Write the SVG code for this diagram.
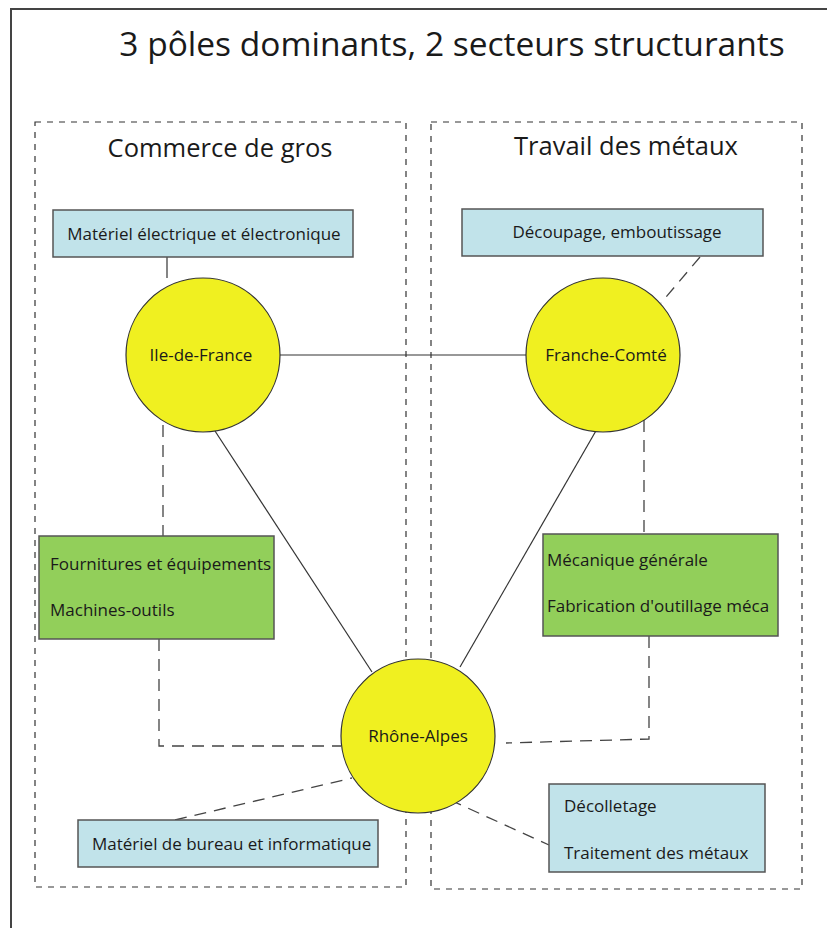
<svg xmlns="http://www.w3.org/2000/svg" width="827" height="928" viewBox="0 0 827 928">
<style>
text{font-family:"Open Sans","Liberation Sans",sans-serif;fill:#1a1a1a}
.t{font-size:17px}
.blue{fill:#c1e3ea;stroke:#555;stroke-width:1.5}
.green{fill:#92cf5a;stroke:#555;stroke-width:1.5}
.pole{fill:#f0f020;stroke:#333;stroke-width:1.2}
.zone{fill:none;stroke:#333;stroke-width:1.2;stroke-dasharray:6 6}
.solid{fill:none;stroke:#333;stroke-width:1.2}
.dash{fill:none;stroke:#444;stroke-width:1.3;stroke-dasharray:12 8}
</style>
<rect width="827" height="928" fill="#fff"/>
<path d="M11 928V9H827" fill="none" stroke="#444" stroke-width="2"/>
<text x="452" y="56" font-size="33.5" text-anchor="middle">3 pôles dominants, 2 secteurs structurants</text>
<g id="zone-commerce">
<rect class="zone" x="35" y="122" width="371" height="765"/>
<text x="220" y="157" font-size="25.5" text-anchor="middle">Commerce de gros</text>
</g>
<g id="zone-metaux">
<rect class="zone" x="431" y="122" width="371" height="767"/>
<text x="626" y="155" font-size="25.5" text-anchor="middle">Travail des métaux</text>
</g>
<g id="connectors">
<line class="solid" x1="167" y1="257" x2="167" y2="278"/>
<line class="solid" x1="280" y1="355" x2="526" y2="355"/>
<line class="solid" x1="215" y1="431" x2="372" y2="672"/>
<line class="solid" x1="597" y1="429" x2="460" y2="667"/>
<line class="dash" x1="700" y1="257" x2="661" y2="303"/>
<polyline class="dash" points="163,425 163,536"/>
<polyline class="dash" points="159,639 159,746 341,746"/>
<polyline class="dash" points="644,420 644,534"/>
<polyline class="dash" points="649,636 649,739 506,743"/>
<line class="dash" x1="175" y1="820" x2="352" y2="778"/>
<line class="dash" x1="450" y1="800" x2="549" y2="845"/>
</g>
<g id="n-materiel-elec">
<rect class="blue" x="53" y="210" width="300" height="47"/>
<text class="t" x="204" y="240" text-anchor="middle">Matériel électrique et électronique</text>
</g>
<g id="n-decoupage">
<rect class="blue" x="462" y="209" width="301" height="47"/>
<text class="t" x="617" y="238" text-anchor="middle">Découpage, emboutissage</text>
</g>
<g id="n-idf">
<circle class="pole" cx="203" cy="355" r="77"/>
<text class="t" x="201" y="361" text-anchor="middle">Ile-de-France</text>
</g>
<g id="n-fc">
<circle class="pole" cx="603" cy="355" r="77"/>
<text class="t" x="606" y="361" text-anchor="middle">Franche-Comté</text>
</g>
<g id="n-fournitures">
<rect class="green" x="39" y="536" width="235" height="103"/>
<text class="t" x="50" y="570">Fournitures et équipements</text>
<text class="t" x="50" y="616">Machines-outils</text>
</g>
<g id="n-mecanique">
<rect class="green" x="543" y="534" width="235" height="102"/>
<text class="t" x="547" y="566">Mécanique générale</text>
<text class="t" x="547" y="612">Fabrication d'outillage méca</text>
</g>
<g id="n-ra">
<circle class="pole" cx="418" cy="736" r="77"/>
<text class="t" x="418" y="742" text-anchor="middle">Rhône-Alpes</text>
</g>
<g id="n-bureau">
<rect class="blue" x="78" y="820" width="300" height="47"/>
<text class="t" x="92" y="850">Matériel de bureau et informatique</text>
</g>
<g id="n-decolletage">
<rect class="blue" x="549" y="784" width="216" height="88"/>
<text class="t" x="564" y="812">Décolletage</text>
<text class="t" x="564" y="859">Traitement des métaux</text>
</g>
</svg>
